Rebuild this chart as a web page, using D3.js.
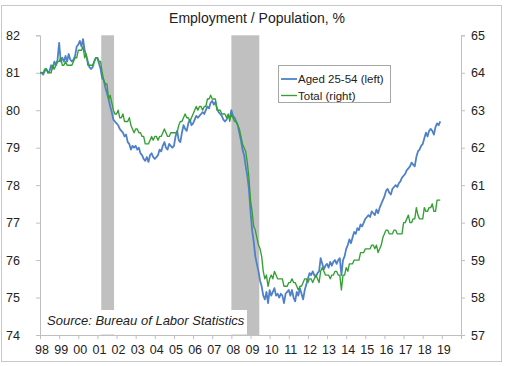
<!DOCTYPE html>
<html><head><meta charset="utf-8">
<script src="https://cdn.jsdelivr.net/npm/d3@7/dist/d3.min.js"></script>
<style>body{margin:0;background:#fff}svg{display:block}text{font-family:"Liberation Sans",Arial,sans-serif;fill:#222}</style>
</head><body>
<script>
// Monthly data, Jan 1998 - Dec 2018
const startYear = 1998;
const aged2554 = [
// 1998
81.0,81.0,80.95,81.05,81.1,81.0,81.05,81.2,81.1,81.3,81.2,81.35,
// 1999
81.8,81.3,81.4,81.3,81.45,81.3,81.5,81.35,81.3,81.35,81.45,81.7,
// 2000
81.75,81.85,81.7,81.9,81.6,81.45,81.3,81.15,81.1,81.15,81.3,81.4,
// 2001
81.4,81.25,81.1,80.85,80.8,80.6,80.45,80.3,80.1,79.95,79.75,79.7,
// 2002
79.65,79.6,79.5,79.45,79.4,79.3,79.35,79.15,79.1,78.95,79.05,79.0,
// 2003
79.05,78.95,79.0,78.85,78.8,78.7,78.65,78.75,78.62,78.8,78.85,78.75,
// 2004
78.7,78.75,78.8,78.95,78.9,79.05,79.15,79.0,78.95,79.1,79.05,79.0,
// 2005
79.05,79.3,79.45,79.2,79.15,79.4,79.6,79.5,79.45,79.65,79.75,79.6,
// 2006
79.65,79.75,79.85,79.8,79.85,79.9,79.95,79.9,80.0,80.1,80.05,80.2,
// 2007
80.25,80.15,80.22,80.05,79.95,79.9,79.85,79.75,79.7,79.75,79.85,79.8,
// 2008
80.0,79.85,79.8,79.7,79.6,79.4,79.2,78.95,78.8,78.5,78.25,77.9,
// 2009
77.3,76.8,76.5,76.1,75.9,75.7,75.45,75.3,75.05,74.95,75.15,74.85,
// 2010
75.2,75.05,75.15,75.25,75.05,75.1,75.0,75.1,75.05,74.85,75.1,75.15,
// 2011
75.2,75.05,75.2,75.0,74.9,75.15,75.05,75.25,75.1,74.95,75.2,75.35,
// 2012
75.5,75.65,75.6,75.7,75.6,75.55,75.65,75.7,76.05,75.9,75.75,75.85,
// 2013
75.9,75.8,75.95,75.85,75.95,76.0,75.9,76.0,76.05,75.6,76.0,76.1,
// 2014
76.3,76.4,76.55,76.45,76.6,76.75,76.7,76.85,76.8,76.95,76.9,77.0,
// 2015
77.1,77.15,77.2,77.15,77.3,77.25,77.2,77.35,77.25,77.4,77.5,77.6,
// 2016
77.7,77.85,77.9,77.8,77.75,77.9,77.95,78.0,77.95,78.05,78.1,78.2,
// 2017
78.25,78.3,78.4,78.45,78.5,78.6,78.55,78.5,78.75,78.9,78.95,79.05,
// 2018
79.1,79.25,79.4,79.3,79.45,79.5,79.45,79.35,79.55,79.65,79.6,79.7
];
const total = [
// 1998
64.0,64.0,64.0,64.1,64.1,64.0,64.0,64.0,64.2,64.1,64.2,64.3,
// 1999
64.3,64.4,64.2,64.2,64.3,64.2,64.2,64.2,64.2,64.3,64.4,64.4,
// 2000
64.6,64.6,64.6,64.7,64.4,64.5,64.2,64.2,64.2,64.2,64.3,64.4,
// 2001
64.4,64.3,64.3,64.0,63.8,63.7,63.7,63.3,63.4,63.2,63.0,62.9,
// 2002
62.9,63.0,62.8,62.8,62.9,62.7,62.7,62.7,62.8,62.6,62.5,62.4,
// 2003
62.5,62.5,62.4,62.4,62.3,62.3,62.1,62.1,62.1,62.2,62.3,62.2,
// 2004
62.3,62.3,62.2,62.3,62.3,62.4,62.5,62.4,62.3,62.3,62.4,62.4,
// 2005
62.4,62.4,62.4,62.6,62.7,62.7,62.8,62.9,62.8,62.8,62.7,62.8,
// 2006
62.9,63.0,63.1,63.0,63.1,63.1,63.0,63.1,63.1,63.3,63.3,63.4,
// 2007
63.3,63.3,63.3,63.0,63.0,63.0,62.9,62.9,62.9,62.8,62.9,62.7,
// 2008
62.9,62.8,62.7,62.7,62.6,62.5,62.3,62.1,62.0,61.9,61.6,61.2,
// 2009
60.6,60.3,59.9,59.8,59.6,59.4,59.3,59.1,58.7,58.5,58.6,58.3,
// 2010
58.5,58.6,58.5,58.7,58.6,58.5,58.5,58.5,58.5,58.3,58.3,58.3,
// 2011
58.4,58.4,58.5,58.4,58.4,58.3,58.2,58.3,58.3,58.4,58.5,58.5,
// 2012
58.4,58.5,58.5,58.4,58.5,58.6,58.5,58.4,58.7,58.8,58.7,58.6,
// 2013
58.6,58.6,58.5,58.6,58.6,58.7,58.7,58.6,58.6,58.2,58.6,58.6,
// 2014
58.8,58.7,58.9,58.9,58.9,59.0,59.0,59.0,59.0,59.2,59.2,59.2,
// 2015
59.3,59.3,59.3,59.3,59.4,59.4,59.3,59.4,59.2,59.3,59.4,59.6,
// 2016
59.7,59.8,59.8,59.7,59.7,59.7,59.8,59.8,59.7,59.7,59.7,59.7,
// 2017
60.0,60.0,60.1,60.2,60.0,60.0,60.1,60.1,60.4,60.2,60.1,60.1,
// 2018
60.1,60.4,60.3,60.3,60.4,60.4,60.5,60.3,60.3,60.6,60.6,60.6
];
const recessions = [[2001.2, 2001.87], [2008.0, 2009.46]];
const yearTicks = d3.range(1998, 2021);
const yearLabels = ["98","99","00","01","02","03","04","05","06","07","08","09","10","11","12","13","14","15","16","17","18","19"];
const leftTicks = [74,75,76,77,78,79,80,81,82];
const rightTicks = [57,58,59,60,61,62,63,64,65];
const title = "Employment / Population, %";
const legendLabels = ["Aged 25-54 (left)", "Total (right)"];
const sourceText = "Source: Bureau of Labor Statistics";

const W = 507, H = 366;
const L = 40, R = 461, T = 35.3, B = 335;
const svg = d3.select("body").append("svg").attr("width", W).attr("height", H);

svg.append("rect").attr("x",1.5).attr("y",5.5).attr("width",500).attr("height",356)
  .attr("fill","#fff").attr("stroke","#c8c8c8");

const x = d3.scaleLinear().domain([1998, 2020]).range([L, R]);
const yL = d3.scaleLinear().domain([74, 82]).range([B, T]);
const yR = d3.scaleLinear().domain([57, 65]).range([B, T]);

// recessions
svg.append("g").selectAll("rect").data(recessions).join("rect")
  .attr("x", d => x(d[0])).attr("width", d => x(d[1]) - x(d[0]))
  .attr("y", T).attr("height", B - T).attr("fill", "#c0c0c0");

const axColor = "#bfbfbf";
const gL = svg.append("g").attr("transform", `translate(${L},0)`)
  .call(d3.axisLeft(yL).tickValues(leftTicks).tickSize(4).tickPadding(16).tickFormat(d3.format("d")));
const gR = svg.append("g").attr("transform", `translate(${R},0)`)
  .call(d3.axisRight(yR).tickValues(rightTicks).tickSize(4).tickPadding(6).tickFormat(d3.format("d")));
const gB = svg.append("g").attr("transform", `translate(0,${B})`)
  .call(d3.axisBottom(x).tickValues(yearTicks).tickSize(4).tickPadding(6)
    .tickFormat((d, i) => i < yearLabels.length ? yearLabels[i] : ""));
[gL, gR, gB].forEach(g => {
  g.select(".domain").attr("stroke", axColor);
  g.selectAll(".tick line").attr("stroke", axColor);
  g.selectAll("text").attr("font-size", 12.5).attr("fill", "#222")
    .attr("font-family", '"Liberation Sans", Arial, sans-serif');
});
gB.selectAll(".tick text").attr("dx", 1.5);

const toYear = i => startYear + i / 12;
const lineL = d3.line().x((d, i) => x(toYear(i))).y(d => yL(d));
const lineR = d3.line().x((d, i) => x(toYear(i))).y(d => yR(d));
const blue = "#4f81c9", green = "#33a033";
svg.append("path").datum(aged2554).attr("d", lineL).attr("fill","none")
  .attr("stroke", blue).attr("stroke-width", 1.8).attr("stroke-linejoin","round");
svg.append("path").datum(total).attr("d", lineR).attr("fill","none")
  .attr("stroke", green).attr("stroke-width", 1.35).attr("stroke-linejoin","round");

// title
svg.append("text").attr("x", 257).attr("y", 23).attr("text-anchor","middle")
  .attr("font-size", 14).text(title);

// legend
const lg = svg.append("g");
lg.append("rect").attr("x", 278.5).attr("y", 65.5).attr("width", 112).attr("height", 37)
  .attr("fill","#fff").attr("stroke","#a6a6a6");
[blue, green].forEach((c, i) => {
  const yy = 79 + i * 16.5;
  lg.append("line").attr("x1", 281).attr("x2", 297).attr("y1", yy).attr("y2", yy)
    .attr("stroke", c).attr("stroke-width", i === 0 ? 1.8 : 1.35);
  lg.append("text").attr("x", 298).attr("y", yy + 4).attr("font-size", 11.5).text(legendLabels[i]);
});

// source box
svg.append("rect").attr("x", 43).attr("y", 310).attr("width", 204).attr("height", 24.5).attr("fill","#fff");
svg.append("text").attr("x", 47).attr("y", 325).attr("font-size", 13).attr("font-style","italic")
  .text(sourceText);
</script>
</body></html>
